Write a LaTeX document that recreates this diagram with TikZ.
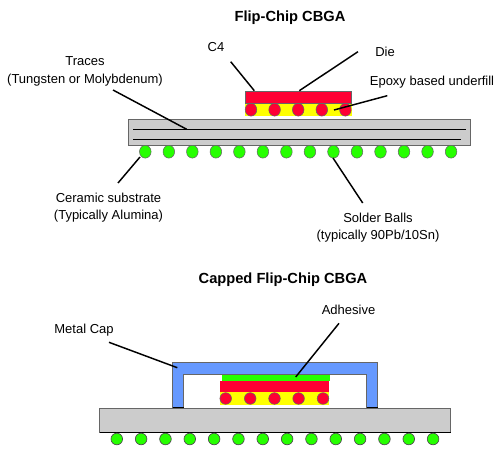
\documentclass[tikz,border=0pt]{standalone}
\usepackage{fontspec}
\setmainfont{Liberation Sans}
\definecolor{subgray}{HTML}{CCCCCC}
\definecolor{dieRed}{HTML}{FF0033}
\definecolor{fillYellow}{HTML}{FFFF00}
\definecolor{ballGreen}{HTML}{26FF00}
\definecolor{capBlue}{HTML}{6699FF}
\definecolor{edgeGray}{HTML}{666666}
\tikzset{
  title/.style={font=\fontsize{11}{12}\selectfont\bfseries,inner sep=0pt},
  label/.style={font=\fontsize{9.75}{12}\selectfont,inner sep=0pt,align=center},
  leader/.style={black,line width=1.1pt},
  sub/.style={fill=subgray,draw=edgeGray,line width=0.75pt},
}
\begin{document}
\begin{tikzpicture}[x=0.75pt,y=-0.75pt]
\useasboundingbox (0,0) rectangle (503,453);

\node[title] (titleA) at (290,17.5) {Flip-Chip CBGA};
\node[title] (titleB) at (283,279.5) {Capped Flip-Chip CBGA};

% upper package
\draw[sub] (128.5,119.5) rectangle (470,145.5);
\draw[black,line width=1.2pt] (133,129.5) -- (466,129.5);
\draw[black,line width=0.9pt] (133,139.5) -- (461,139.5);
\foreach \x in {0,...,13}
  \draw[fill=ballGreen,draw=edgeGray,line width=0.4pt] (145.3+23.52*\x,151.7) ellipse (5.8 and 6.4);
\fill[fillYellow] (245,103) rectangle (351.5,116);
\foreach \x in {251,274.6,298.2,321.8,345.4}
  \draw[fill=dieRed,draw=edgeGray,line width=0.4pt] (\x,109.7) ellipse (5.8 and 6.4);
\draw[fill=dieRed,draw=edgeGray,line width=0.5pt] (245,91) rectangle (351.5,103);

\node[label] (traces) at (85,71.5) {Traces\\[1.2pt](Tungsten or Molybdenum)};
\node[label] (cfour) at (216,47.5) {C4};
\node[label] (die) at (385,52) {Die};
\node[label] (epoxy) at (432,82) {Epoxy based underfill};
\node[label] (ceramic) at (108.5,207.5) {Ceramic substrate\\[0.6pt](Typically Alumina)};
\node[label] (solder) at (378,227.5) {Solder Balls\\[1.2pt](typically 90Pb/10Sn)};

\coordinate (tracesA) at (113,90);
\coordinate (tracesB) at (186.7,129.3);
\coordinate (cfourA) at (230.7,61.7);
\coordinate (cfourB) at (254.3,90.7);
\coordinate (dieA) at (358,51.7);
\coordinate (dieB) at (299.3,90.7);
\coordinate (epoxyA) at (387.3,95.7);
\coordinate (epoxyB) at (334,110);
\coordinate (ceramicA) at (118,183);
\coordinate (ceramicB) at (140,157);
\coordinate (solderA) at (362.7,203);
\coordinate (solderB) at (333,158);
\draw[leader] (tracesA) -- (tracesB);
\draw[leader] (cfourA) -- (cfourB);
\draw[leader] (dieA) -- (dieB);
\draw[leader] (epoxyA) -- (epoxyB);
\draw[leader] (ceramicA) -- (ceramicB);
\draw[leader] (solderA) -- (solderB);

% lower package
\draw[fill=subgray,draw=edgeGray,line width=0.75pt] (99.5,408.5) rectangle (450.5,432);
\draw[black,line width=0.75pt] (99.5,432.3) -- (450.5,432.3);
\foreach \x in {0,...,13}
  \draw[fill=ballGreen,draw=black!70,line width=0.5pt] (116.8+24.33*\x,439) circle (5.8);
\draw[fill=capBlue,draw=edgeGray,line width=0.75pt] (172.5,374.5) -- (172.5,407.7) -- (183.7,407.7) -- (183.7,374.5)
  -- (366.5,374.5) -- (366.5,407.7) -- (377.5,407.7) -- (377.5,362.5) -- (172.5,362.5) -- cycle;
\draw[black,line width=0.9pt] (172.5,407.6) -- (183.7,407.6);
\draw[black,line width=0.9pt] (366.5,407.6) -- (377.5,407.6);
\fill[fillYellow] (219.5,392) rectangle (329,404.7);
\foreach \x in {225.7,250.2,274.5,298.6,323}
  \draw[fill=dieRed,draw=edgeGray,line width=0.4pt] (\x,398.5) circle (5.8);
\fill[dieRed] (219.5,380.5) rectangle (329,392);
\fill[ballGreen] (221.7,374.5) rectangle (330,381);

\node[label] (adhesive) at (348.5,310) {Adhesive};
\node[label] (metalcap) at (84,330.5) {Metal Cap};
\coordinate (adhesiveA) at (339,323.3);
\coordinate (adhesiveB) at (295.7,377);
\coordinate (metalcapA) at (109,342.3);
\coordinate (metalcapB) at (177.3,367.7);
\draw[leader] (adhesiveA) -- (adhesiveB);
\draw[leader] (metalcapA) -- (metalcapB);
\end{tikzpicture}
\end{document}
